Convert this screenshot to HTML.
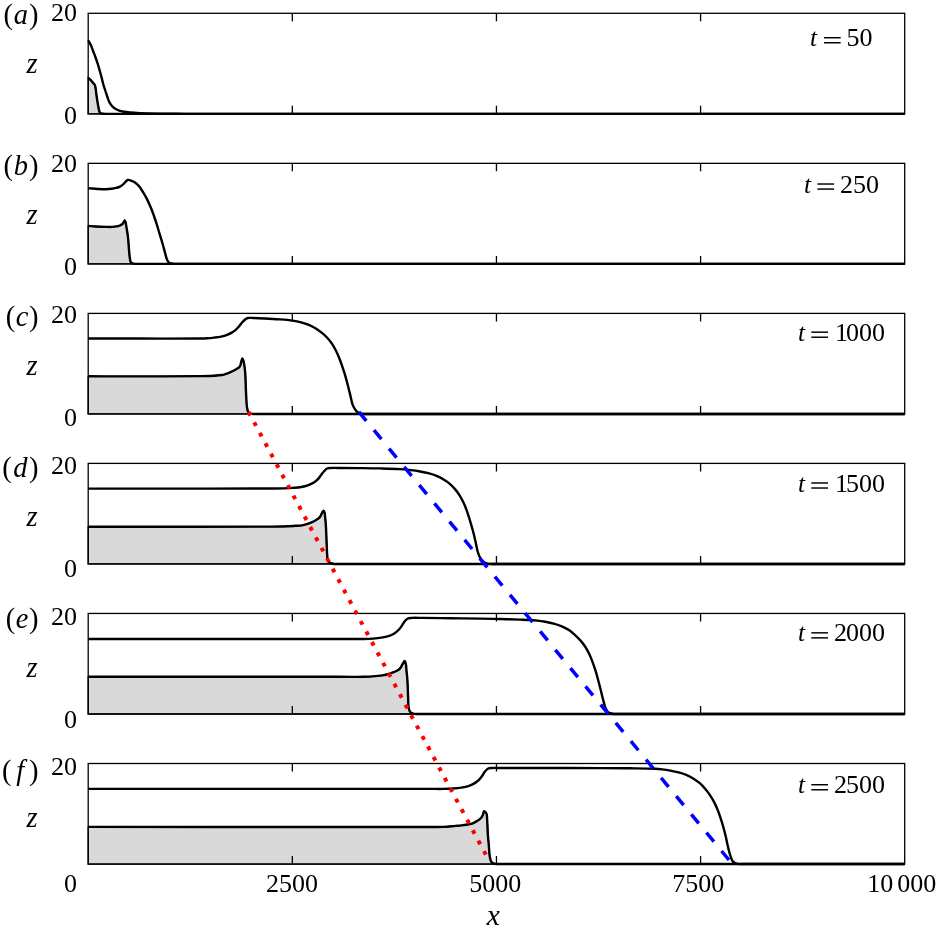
<!DOCTYPE html>
<html><head><meta charset="utf-8"><style>
html,body{margin:0;padding:0;background:#fff;width:936px;height:933px;overflow:hidden;font-family:"Liberation Serif",serif;}
svg{display:block;will-change:transform;}
</style></head><body>
<svg width="936" height="933" viewBox="0 0 936 933"><rect x="0" y="0" width="936" height="933" fill="#fff"/>
<path d="M88.20 77.80 C88.87 78.40 89.57 78.97 90.20 79.60 C90.83 80.23 91.42 80.95 92.00 81.60 C92.55 82.21 93.10 82.77 93.60 83.40 C94.10 84.04 94.68 84.65 95.00 85.40 C95.34 86.18 95.37 86.92 95.55 88.00 C95.85 89.76 96.13 92.67 96.45 95.00 C96.78 97.34 97.16 99.93 97.50 102.00 C97.77 103.67 98.03 105.07 98.30 106.50 C98.55 107.81 98.76 109.17 99.05 110.25 C99.28 111.10 99.38 111.95 99.80 112.50 C100.17 112.98 100.65 113.27 101.30 113.50 C102.23 113.83 103.77 113.75 105.00 113.87 L105.00 113.87 L88.20 113.87 Z" fill="#d9d9d9" stroke="#000" stroke-width="1.3"/>
<rect x="88.20" y="13.30" width="816.50" height="100.57" fill="none" stroke="#000" stroke-width="1.3"/>
<path d="M292.32 13.30 V21.30 M292.32 113.87 V105.87" stroke="#000" stroke-width="1.3" fill="none"/>
<path d="M496.45 13.30 V21.30 M496.45 113.87 V105.87" stroke="#000" stroke-width="1.3" fill="none"/>
<path d="M700.58 13.30 V21.30 M700.58 113.87 V105.87" stroke="#000" stroke-width="1.3" fill="none"/>
<path d="M88.20 40.30 C89.20 42.17 90.36 44.05 91.20 45.90 C91.97 47.61 92.43 49.23 93.10 51.00 C93.83 52.92 94.62 54.85 95.40 57.00 C96.29 59.47 97.33 62.52 98.10 65.00 C98.76 67.13 99.23 69.00 99.80 71.00 C100.37 73.00 100.93 74.85 101.50 77.00 C102.15 79.47 102.77 82.54 103.47 85.00 C104.08 87.16 104.75 89.00 105.40 91.00 C106.06 93.00 106.69 95.04 107.40 97.00 C108.09 98.91 108.72 100.99 109.60 102.60 C110.36 103.99 111.22 105.15 112.20 106.20 C113.13 107.20 114.16 108.06 115.30 108.80 C116.48 109.57 117.81 110.21 119.20 110.70 C120.67 111.22 122.23 111.51 123.90 111.80 C125.77 112.13 127.64 112.30 129.90 112.50 C132.83 112.76 136.06 112.93 140.00 113.10 C145.54 113.33 152.96 113.47 160.00 113.60 C167.87 113.74 176.67 113.78 185.00 113.87 L904.70 113.87" fill="none" stroke="#000" stroke-width="2.4" stroke-linejoin="round" stroke-linecap="butt"/>
<path d="M88.20 77.80 C88.87 78.40 89.57 78.97 90.20 79.60 C90.83 80.23 91.42 80.95 92.00 81.60 C92.55 82.21 93.10 82.77 93.60 83.40 C94.10 84.04 94.68 84.65 95.00 85.40 C95.34 86.18 95.37 86.92 95.55 88.00 C95.85 89.76 96.13 92.67 96.45 95.00 C96.78 97.34 97.16 99.93 97.50 102.00 C97.77 103.67 98.03 105.07 98.30 106.50 C98.55 107.81 98.76 109.17 99.05 110.25 C99.28 111.10 99.38 111.95 99.80 112.50 C100.17 112.98 100.65 113.27 101.30 113.50 C102.23 113.83 103.77 113.75 105.00 113.87 L904.70 113.87" fill="none" stroke="#000" stroke-width="2.4" stroke-linejoin="round" stroke-linecap="butt"/>
<path d="M88.20 225.90 C90.67 226.10 92.92 226.34 95.60 226.50 C98.77 226.69 102.95 226.84 106.00 226.90 C108.39 226.95 110.49 227.01 112.40 226.90 C113.95 226.81 115.34 226.65 116.60 226.40 C117.66 226.19 118.60 225.92 119.50 225.60 C120.32 225.31 121.19 225.03 121.80 224.60 C122.31 224.24 122.65 223.80 123.00 223.30 C123.39 222.75 123.66 221.92 124.00 221.40 C124.26 221.00 124.56 220.36 124.80 220.40 C125.11 220.45 125.37 221.59 125.60 222.40 C125.94 223.59 126.14 225.38 126.40 226.90 C126.67 228.47 126.95 230.10 127.20 231.70 C127.45 233.30 127.69 234.78 127.90 236.50 C128.14 238.48 128.31 240.64 128.50 242.90 C128.71 245.44 128.86 248.35 129.10 251.00 C129.33 253.55 129.51 256.39 129.90 258.50 C130.20 260.08 130.26 261.74 131.00 262.60 C131.59 263.29 132.57 263.47 133.50 263.70 C134.55 263.96 135.83 263.85 137.00 263.92 L137.00 263.92 L88.20 263.92 Z" fill="#d9d9d9" stroke="#000" stroke-width="1.3"/>
<rect x="88.20" y="163.35" width="816.50" height="100.57" fill="none" stroke="#000" stroke-width="1.3"/>
<path d="M292.32 163.35 V171.35 M292.32 263.92 V255.92" stroke="#000" stroke-width="1.3" fill="none"/>
<path d="M496.45 163.35 V171.35 M496.45 263.92 V255.92" stroke="#000" stroke-width="1.3" fill="none"/>
<path d="M700.58 163.35 V171.35 M700.58 263.92 V255.92" stroke="#000" stroke-width="1.3" fill="none"/>
<path d="M88.20 188.30 C89.60 188.37 90.85 188.40 92.40 188.50 C94.33 188.62 96.74 188.88 98.90 189.00 C101.04 189.12 103.17 189.23 105.30 189.20 C107.43 189.17 109.76 189.05 111.70 188.80 C113.34 188.59 114.78 188.28 116.20 187.90 C117.53 187.54 118.77 187.25 120.00 186.60 C121.35 185.89 122.64 184.77 123.90 183.70 C125.21 182.58 126.31 180.41 127.70 180.00 C128.91 179.65 130.34 180.36 131.60 180.80 C132.91 181.25 134.19 181.83 135.40 182.70 C136.78 183.69 138.07 185.10 139.30 186.60 C140.69 188.28 141.95 190.37 143.20 192.40 C144.52 194.53 145.78 196.69 147.00 199.10 C148.36 201.78 149.73 204.97 150.90 207.80 C151.98 210.43 152.86 212.85 153.80 215.50 C154.79 218.30 155.76 221.21 156.70 224.20 C157.69 227.34 158.63 230.68 159.60 233.90 C160.56 237.11 161.60 240.37 162.50 243.50 C163.36 246.47 164.14 249.48 164.90 252.20 C165.57 254.61 166.04 257.16 166.80 259.00 C167.36 260.37 167.87 261.65 168.70 262.40 C169.40 263.03 170.21 263.25 171.20 263.50 C172.52 263.84 174.40 263.78 176.00 263.92 L904.70 263.92" fill="none" stroke="#000" stroke-width="2.4" stroke-linejoin="round" stroke-linecap="butt"/>
<path d="M88.20 225.90 C90.67 226.10 92.92 226.34 95.60 226.50 C98.77 226.69 102.95 226.84 106.00 226.90 C108.39 226.95 110.49 227.01 112.40 226.90 C113.95 226.81 115.34 226.65 116.60 226.40 C117.66 226.19 118.60 225.92 119.50 225.60 C120.32 225.31 121.19 225.03 121.80 224.60 C122.31 224.24 122.65 223.80 123.00 223.30 C123.39 222.75 123.66 221.92 124.00 221.40 C124.26 221.00 124.56 220.36 124.80 220.40 C125.11 220.45 125.37 221.59 125.60 222.40 C125.94 223.59 126.14 225.38 126.40 226.90 C126.67 228.47 126.95 230.10 127.20 231.70 C127.45 233.30 127.69 234.78 127.90 236.50 C128.14 238.48 128.31 240.64 128.50 242.90 C128.71 245.44 128.86 248.35 129.10 251.00 C129.33 253.55 129.51 256.39 129.90 258.50 C130.20 260.08 130.26 261.74 131.00 262.60 C131.59 263.29 132.57 263.47 133.50 263.70 C134.55 263.96 135.83 263.85 137.00 263.92 L904.70 263.92" fill="none" stroke="#000" stroke-width="2.4" stroke-linejoin="round" stroke-linecap="butt"/>
<path d="M88.20 376.30 C105.30 376.33 121.70 376.43 139.50 376.40 C158.84 376.37 186.84 376.32 200.00 376.10 C206.38 375.99 210.17 375.94 214.20 375.70 C217.19 375.52 219.98 375.34 222.00 375.00 C223.31 374.78 224.14 374.51 225.20 374.20 C226.27 373.88 227.34 373.53 228.40 373.10 C229.48 372.66 230.53 372.11 231.60 371.60 C232.69 371.08 233.88 370.53 234.90 370.00 C235.80 369.53 236.63 369.10 237.40 368.60 C238.12 368.13 238.88 367.72 239.40 367.10 C239.91 366.48 240.20 365.73 240.50 364.90 C240.86 363.93 241.00 362.69 241.30 361.60 C241.60 360.52 241.91 358.42 242.30 358.40 C242.66 358.38 243.17 359.95 243.50 361.00 C243.96 362.47 244.22 364.59 244.50 366.50 C244.80 368.55 245.02 370.64 245.20 372.90 C245.40 375.42 245.49 378.15 245.60 380.90 C245.72 383.84 245.78 387.06 245.90 390.00 C246.01 392.75 246.14 395.28 246.30 398.00 C246.47 400.84 246.48 404.10 246.90 406.70 C247.25 408.87 247.51 411.52 248.40 412.60 C248.95 413.27 249.75 413.37 250.50 413.60 C251.28 413.84 252.17 413.85 253.00 413.97 L253.00 413.97 L88.20 413.97 Z" fill="#d9d9d9" stroke="#000" stroke-width="1.3"/>
<rect x="88.20" y="313.40" width="816.50" height="100.57" fill="none" stroke="#000" stroke-width="1.3"/>
<path d="M292.32 313.40 V321.40 M292.32 413.97 V405.97" stroke="#000" stroke-width="1.3" fill="none"/>
<path d="M496.45 313.40 V321.40 M496.45 413.97 V405.97" stroke="#000" stroke-width="1.3" fill="none"/>
<path d="M700.58 313.40 V321.40 M700.58 413.97 V405.97" stroke="#000" stroke-width="1.3" fill="none"/>
<path d="M88.20 338.55 C105.30 338.55 121.70 338.55 139.50 338.55 C158.84 338.55 189.71 338.74 200.00 338.55 C203.53 338.48 204.74 338.44 207.10 338.28 C209.47 338.13 211.85 337.90 214.20 337.61 C216.55 337.32 218.98 337.04 221.20 336.55 C223.27 336.08 225.27 335.49 227.10 334.80 C228.78 334.16 230.37 333.42 231.80 332.60 C233.11 331.84 234.25 331.07 235.40 330.10 C236.63 329.06 237.81 327.75 238.90 326.50 C239.97 325.28 240.88 323.87 241.90 322.70 C242.85 321.62 243.76 320.50 244.80 319.70 C245.74 318.97 246.61 318.31 247.80 318.00 C249.28 317.61 250.99 317.96 253.10 318.00 C256.26 318.07 260.97 318.30 264.90 318.50 C268.83 318.70 272.89 318.96 276.70 319.20 C280.28 319.43 283.97 319.57 287.10 319.90 C289.70 320.17 291.85 320.48 294.20 320.90 C296.55 321.32 298.87 321.78 301.20 322.40 C303.57 323.04 305.97 323.74 308.30 324.70 C310.71 325.69 313.19 326.98 315.40 328.30 C317.50 329.56 319.38 330.88 321.30 332.40 C323.32 334.00 325.42 335.81 327.20 337.70 C328.94 339.55 330.46 341.48 331.90 343.60 C333.40 345.81 334.74 348.20 336.00 350.70 C337.32 353.32 338.51 356.22 339.60 359.00 C340.67 361.72 341.55 364.37 342.50 367.20 C343.52 370.22 344.56 373.40 345.50 376.60 C346.47 379.89 347.35 383.39 348.20 386.70 C349.02 389.89 349.76 393.06 350.50 396.10 C351.19 398.95 351.64 402.07 352.50 404.40 C353.18 406.23 354.02 407.76 354.90 409.10 C355.64 410.23 356.38 411.26 357.30 412.00 C358.16 412.69 359.14 413.17 360.20 413.50 C361.35 413.86 362.73 413.81 364.00 413.97 L904.70 413.97" fill="none" stroke="#000" stroke-width="2.4" stroke-linejoin="round" stroke-linecap="butt"/>
<path d="M88.20 376.30 C105.30 376.33 121.70 376.43 139.50 376.40 C158.84 376.37 186.84 376.32 200.00 376.10 C206.38 375.99 210.17 375.94 214.20 375.70 C217.19 375.52 219.98 375.34 222.00 375.00 C223.31 374.78 224.14 374.51 225.20 374.20 C226.27 373.88 227.34 373.53 228.40 373.10 C229.48 372.66 230.53 372.11 231.60 371.60 C232.69 371.08 233.88 370.53 234.90 370.00 C235.80 369.53 236.63 369.10 237.40 368.60 C238.12 368.13 238.88 367.72 239.40 367.10 C239.91 366.48 240.20 365.73 240.50 364.90 C240.86 363.93 241.00 362.69 241.30 361.60 C241.60 360.52 241.91 358.42 242.30 358.40 C242.66 358.38 243.17 359.95 243.50 361.00 C243.96 362.47 244.22 364.59 244.50 366.50 C244.80 368.55 245.02 370.64 245.20 372.90 C245.40 375.42 245.49 378.15 245.60 380.90 C245.72 383.84 245.78 387.06 245.90 390.00 C246.01 392.75 246.14 395.28 246.30 398.00 C246.47 400.84 246.48 404.10 246.90 406.70 C247.25 408.87 247.51 411.52 248.40 412.60 C248.95 413.27 249.75 413.37 250.50 413.60 C251.28 413.84 252.17 413.85 253.00 413.97 L904.70 413.97" fill="none" stroke="#000" stroke-width="2.4" stroke-linejoin="round" stroke-linecap="butt"/>
<path d="M88.20 526.75 C125.47 526.75 168.49 526.78 200.00 526.75 C223.09 526.73 244.58 526.73 260.00 526.65 C269.67 526.60 277.08 526.65 283.60 526.45 C288.21 526.31 292.03 526.03 295.40 525.82 C297.92 525.66 300.20 525.62 302.00 525.35 C303.27 525.16 304.14 524.90 305.20 524.61 C306.27 524.32 307.34 523.97 308.40 523.60 C309.47 523.23 310.54 522.86 311.60 522.40 C312.70 521.93 313.90 521.38 314.90 520.80 C315.81 520.27 316.61 519.64 317.40 519.10 C318.11 518.61 318.86 518.25 319.40 517.70 C319.91 517.18 320.24 516.55 320.60 515.90 C320.98 515.22 321.23 514.43 321.60 513.70 C321.99 512.93 322.47 511.89 322.90 511.40 C323.17 511.10 323.46 510.74 323.70 510.80 C324.02 510.88 324.28 511.68 324.50 512.40 C324.88 513.66 324.99 516.00 325.20 517.90 C325.43 519.95 325.65 522.23 325.80 524.30 C325.94 526.25 326.00 528.00 326.10 530.00 C326.21 532.21 326.30 534.57 326.40 537.00 C326.50 539.65 326.58 542.51 326.70 545.30 C326.82 548.14 326.94 551.48 327.10 553.90 C327.22 555.67 327.22 557.14 327.50 558.50 C327.73 559.62 327.90 560.71 328.50 561.50 C329.08 562.27 330.09 562.79 331.00 563.20 C331.92 563.62 333.00 563.71 334.00 563.97 L334.00 563.97 L88.20 563.97 Z" fill="#d9d9d9" stroke="#000" stroke-width="1.3"/>
<rect x="88.20" y="463.40" width="816.50" height="100.57" fill="none" stroke="#000" stroke-width="1.3"/>
<path d="M292.32 463.40 V471.40 M292.32 563.97 V555.97" stroke="#000" stroke-width="1.3" fill="none"/>
<path d="M496.45 463.40 V471.40 M496.45 563.97 V555.97" stroke="#000" stroke-width="1.3" fill="none"/>
<path d="M700.58 463.40 V471.40 M700.58 563.97 V555.97" stroke="#000" stroke-width="1.3" fill="none"/>
<path d="M88.20 488.65 C125.47 488.65 168.49 488.68 200.00 488.65 C223.09 488.63 247.71 488.56 260.00 488.55 C265.45 488.55 267.87 488.58 271.80 488.55 C275.73 488.52 279.89 488.48 283.60 488.35 C286.91 488.24 289.97 488.11 293.00 487.87 C295.86 487.65 298.66 487.50 301.30 487.00 C303.78 486.53 306.18 485.87 308.40 485.03 C310.49 484.25 312.58 483.34 314.30 482.20 C315.87 481.16 317.21 479.89 318.40 478.60 C319.52 477.38 320.31 475.97 321.30 474.70 C322.28 473.44 323.26 472.07 324.30 471.00 C325.23 470.04 326.10 469.00 327.20 468.50 C328.27 468.01 329.25 468.11 330.80 468.00 C333.59 467.81 338.29 467.99 342.60 468.00 C347.84 468.02 354.00 468.04 360.00 468.10 C366.43 468.17 373.33 468.23 380.00 468.40 C386.67 468.57 394.58 468.75 400.00 469.10 C403.72 469.34 406.26 469.65 409.40 470.00 C412.56 470.35 415.75 470.67 418.90 471.20 C422.05 471.73 425.28 472.39 428.30 473.20 C431.17 473.97 433.99 474.81 436.60 475.90 C439.08 476.93 441.41 478.18 443.60 479.50 C445.69 480.76 447.65 482.05 449.50 483.60 C451.39 485.18 453.14 486.98 454.80 488.90 C456.52 490.90 458.14 493.08 459.60 495.40 C461.12 497.81 462.45 500.41 463.70 503.10 C465.00 505.90 466.13 508.90 467.20 511.90 C468.30 514.96 469.25 518.15 470.20 521.30 C471.15 524.45 472.04 527.54 472.90 530.80 C473.81 534.23 474.68 537.86 475.50 541.40 C476.32 544.93 476.88 549.01 477.80 552.00 C478.51 554.29 479.16 556.18 480.20 557.90 C481.16 559.48 482.41 561.03 483.70 562.00 C484.81 562.83 485.99 563.27 487.30 563.60 C488.73 563.96 490.43 563.85 492.00 563.97 L904.70 563.97" fill="none" stroke="#000" stroke-width="2.4" stroke-linejoin="round" stroke-linecap="butt"/>
<path d="M88.20 526.75 C125.47 526.75 168.49 526.78 200.00 526.75 C223.09 526.73 244.58 526.73 260.00 526.65 C269.67 526.60 277.08 526.65 283.60 526.45 C288.21 526.31 292.03 526.03 295.40 525.82 C297.92 525.66 300.20 525.62 302.00 525.35 C303.27 525.16 304.14 524.90 305.20 524.61 C306.27 524.32 307.34 523.97 308.40 523.60 C309.47 523.23 310.54 522.86 311.60 522.40 C312.70 521.93 313.90 521.38 314.90 520.80 C315.81 520.27 316.61 519.64 317.40 519.10 C318.11 518.61 318.86 518.25 319.40 517.70 C319.91 517.18 320.24 516.55 320.60 515.90 C320.98 515.22 321.23 514.43 321.60 513.70 C321.99 512.93 322.47 511.89 322.90 511.40 C323.17 511.10 323.46 510.74 323.70 510.80 C324.02 510.88 324.28 511.68 324.50 512.40 C324.88 513.66 324.99 516.00 325.20 517.90 C325.43 519.95 325.65 522.23 325.80 524.30 C325.94 526.25 326.00 528.00 326.10 530.00 C326.21 532.21 326.30 534.57 326.40 537.00 C326.50 539.65 326.58 542.51 326.70 545.30 C326.82 548.14 326.94 551.48 327.10 553.90 C327.22 555.67 327.22 557.14 327.50 558.50 C327.73 559.62 327.90 560.71 328.50 561.50 C329.08 562.27 330.09 562.79 331.00 563.20 C331.92 563.62 333.00 563.71 334.00 563.97 L904.70 563.97" fill="none" stroke="#000" stroke-width="2.4" stroke-linejoin="round" stroke-linecap="butt"/>
<path d="M88.20 676.80 C172.13 676.80 300.65 676.80 340.00 676.80 C352.05 676.80 357.09 676.98 363.60 676.80 C368.21 676.67 371.78 676.46 375.40 676.14 C378.50 675.88 381.84 675.53 384.00 675.13 C385.34 674.88 386.14 674.60 387.20 674.30 C388.27 673.99 389.34 673.65 390.40 673.30 C391.47 672.95 392.53 672.61 393.60 672.20 C394.70 671.78 395.90 671.35 396.90 670.80 C397.82 670.30 398.70 669.74 399.40 669.10 C400.04 668.52 400.57 667.89 401.00 667.20 C401.43 666.52 401.62 665.70 402.00 665.00 C402.38 664.30 402.87 663.68 403.30 663.00 C403.74 662.31 404.20 660.86 404.60 660.90 C405.08 660.94 405.59 662.87 405.90 664.20 C406.34 666.06 406.28 668.84 406.50 671.10 C406.71 673.27 407.02 675.36 407.20 677.50 C407.38 679.63 407.49 681.64 407.60 683.90 C407.73 686.44 407.80 689.31 407.90 692.00 C408.00 694.67 408.08 697.38 408.20 700.00 C408.32 702.54 408.17 705.34 408.60 707.50 C408.94 709.22 409.32 710.97 410.20 712.00 C410.93 712.86 412.10 713.26 413.10 713.60 C414.04 713.92 415.03 713.88 416.00 714.02 L416.00 714.02 L88.20 714.02 Z" fill="#d9d9d9" stroke="#000" stroke-width="1.3"/>
<rect x="88.20" y="613.45" width="816.50" height="100.57" fill="none" stroke="#000" stroke-width="1.3"/>
<path d="M292.32 613.45 V621.45 M292.32 714.02 V706.02" stroke="#000" stroke-width="1.3" fill="none"/>
<path d="M496.45 613.45 V621.45 M496.45 714.02 V706.02" stroke="#000" stroke-width="1.3" fill="none"/>
<path d="M700.58 613.45 V621.45 M700.58 714.02 V706.02" stroke="#000" stroke-width="1.3" fill="none"/>
<path d="M88.20 639.00 C172.13 639.00 310.13 639.00 340.00 639.00 C346.47 639.00 347.87 639.00 351.80 639.00 C355.73 639.00 359.89 639.08 363.60 639.00 C366.91 638.93 369.97 638.81 373.00 638.58 C375.86 638.35 378.65 638.10 381.30 637.67 C383.77 637.26 386.18 636.83 388.40 636.09 C390.50 635.39 392.51 634.52 394.30 633.40 C396.04 632.31 397.69 630.88 399.00 629.50 C400.17 628.27 400.97 626.92 401.90 625.60 C402.83 624.29 403.59 622.80 404.60 621.60 C405.57 620.45 406.55 619.11 407.80 618.50 C409.02 617.90 410.28 618.02 412.00 617.90 C414.72 617.71 418.24 617.88 422.60 617.90 C429.60 617.94 440.66 618.09 450.00 618.20 C459.77 618.32 471.01 618.45 480.00 618.60 C487.34 618.72 493.33 618.83 500.00 619.00 C506.67 619.17 514.48 619.41 520.00 619.60 C523.91 619.74 526.95 619.81 530.00 620.00 C532.57 620.16 534.65 620.32 537.10 620.60 C539.74 620.90 542.57 621.30 545.30 621.80 C548.07 622.30 550.86 622.85 553.60 623.60 C556.36 624.35 559.21 625.19 561.80 626.30 C564.30 627.37 566.70 628.65 568.90 630.10 C571.03 631.50 572.93 633.13 574.80 634.80 C576.66 636.46 578.44 638.24 580.10 640.10 C581.77 641.97 583.36 643.84 584.80 646.00 C586.35 648.31 587.73 650.98 589.00 653.60 C590.30 656.27 591.42 659.07 592.50 661.90 C593.59 664.77 594.56 667.70 595.50 670.70 C596.47 673.79 597.33 676.99 598.20 680.20 C599.09 683.49 599.97 686.92 600.80 690.20 C601.60 693.38 602.29 696.57 603.10 699.60 C603.86 702.46 604.46 705.62 605.50 707.90 C606.32 709.70 607.13 711.42 608.40 712.40 C609.55 713.29 611.16 713.53 612.60 713.80 C614.03 714.07 615.53 713.95 617.00 714.02 L904.70 714.02" fill="none" stroke="#000" stroke-width="2.4" stroke-linejoin="round" stroke-linecap="butt"/>
<path d="M88.20 676.80 C172.13 676.80 300.65 676.80 340.00 676.80 C352.05 676.80 357.09 676.98 363.60 676.80 C368.21 676.67 371.78 676.46 375.40 676.14 C378.50 675.88 381.84 675.53 384.00 675.13 C385.34 674.88 386.14 674.60 387.20 674.30 C388.27 673.99 389.34 673.65 390.40 673.30 C391.47 672.95 392.53 672.61 393.60 672.20 C394.70 671.78 395.90 671.35 396.90 670.80 C397.82 670.30 398.70 669.74 399.40 669.10 C400.04 668.52 400.57 667.89 401.00 667.20 C401.43 666.52 401.62 665.70 402.00 665.00 C402.38 664.30 402.87 663.68 403.30 663.00 C403.74 662.31 404.20 660.86 404.60 660.90 C405.08 660.94 405.59 662.87 405.90 664.20 C406.34 666.06 406.28 668.84 406.50 671.10 C406.71 673.27 407.02 675.36 407.20 677.50 C407.38 679.63 407.49 681.64 407.60 683.90 C407.73 686.44 407.80 689.31 407.90 692.00 C408.00 694.67 408.08 697.38 408.20 700.00 C408.32 702.54 408.17 705.34 408.60 707.50 C408.94 709.22 409.32 710.97 410.20 712.00 C410.93 712.86 412.10 713.26 413.10 713.60 C414.04 713.92 415.03 713.88 416.00 714.02 L904.70 714.02" fill="none" stroke="#000" stroke-width="2.4" stroke-linejoin="round" stroke-linecap="butt"/>
<path d="M88.20 826.90 C198.80 826.93 384.90 826.99 420.00 827.00 C426.62 827.00 427.87 827.02 431.80 827.00 C435.73 826.98 439.67 827.08 443.60 826.90 C447.54 826.72 452.11 826.17 455.40 825.89 C457.77 825.69 459.46 825.61 461.50 825.38 C463.56 825.15 466.14 824.75 467.70 824.50 C468.65 824.35 469.18 824.29 470.00 824.10 C470.98 823.88 472.16 823.63 473.20 823.20 C474.29 822.75 475.34 822.04 476.40 821.40 C477.48 820.74 478.66 820.08 479.60 819.30 C480.48 818.57 481.30 817.82 481.90 816.90 C482.51 815.96 482.85 814.70 483.20 813.70 C483.50 812.85 483.46 811.48 483.90 811.30 C484.26 811.15 484.97 811.68 485.40 812.10 C485.93 812.61 486.43 813.44 486.70 814.30 C487.03 815.32 486.90 816.53 487.00 817.90 C487.13 819.73 487.28 821.95 487.40 824.30 C487.55 827.18 487.58 830.59 487.80 833.90 C488.03 837.44 488.47 841.17 488.80 844.90 C489.14 848.76 489.20 853.57 489.80 856.70 C490.21 858.84 490.46 860.84 491.40 862.00 C492.12 862.90 493.32 863.26 494.30 863.60 C495.19 863.91 496.10 863.91 497.00 864.07 L497.00 864.07 L88.20 864.07 Z" fill="#d9d9d9" stroke="#000" stroke-width="1.3"/>
<rect x="88.20" y="763.50" width="816.50" height="100.57" fill="none" stroke="#000" stroke-width="1.3"/>
<path d="M292.32 763.50 V771.50 M292.32 864.07 V856.07" stroke="#000" stroke-width="1.3" fill="none"/>
<path d="M496.45 763.50 V771.50 M496.45 864.07 V856.07" stroke="#000" stroke-width="1.3" fill="none"/>
<path d="M700.58 763.50 V771.50 M700.58 864.07 V856.07" stroke="#000" stroke-width="1.3" fill="none"/>
<path d="M88.20 788.90 C198.80 788.90 384.90 788.90 420.00 788.90 C426.62 788.90 427.87 788.90 431.80 788.90 C435.73 788.90 439.89 788.98 443.60 788.90 C446.91 788.83 449.97 788.73 453.00 788.51 C455.86 788.30 458.65 788.06 461.30 787.63 C463.77 787.23 466.18 786.81 468.40 786.08 C470.50 785.38 472.50 784.48 474.30 783.40 C476.02 782.37 477.68 781.07 479.00 779.80 C480.16 778.69 480.99 777.55 481.90 776.30 C482.86 774.99 483.59 773.37 484.60 772.10 C485.57 770.88 486.54 769.48 487.80 768.80 C489.02 768.14 490.27 768.16 492.00 768.00 C494.72 767.74 497.99 768.00 502.60 768.00 C511.26 768.00 526.07 767.99 540.00 768.00 C557.65 768.01 583.43 768.03 600.00 768.10 C611.72 768.15 620.46 768.17 630.00 768.30 C638.71 768.42 649.21 768.50 655.00 768.80 C658.09 768.96 659.65 769.12 662.10 769.40 C664.74 769.70 667.57 770.10 670.30 770.60 C673.07 771.10 675.86 771.65 678.60 772.40 C681.36 773.15 684.21 773.99 686.80 775.10 C689.30 776.17 691.69 777.51 693.90 778.90 C696.01 780.22 697.95 781.59 699.80 783.20 C701.69 784.85 703.44 786.77 705.10 788.70 C706.77 790.64 708.34 792.64 709.80 794.80 C711.31 797.03 712.72 799.46 714.00 801.90 C715.29 804.36 716.43 806.89 717.50 809.50 C718.60 812.18 719.56 814.98 720.50 817.80 C721.46 820.68 722.34 823.56 723.20 826.60 C724.11 829.84 724.99 833.28 725.80 836.70 C726.63 840.18 727.28 843.94 728.10 847.30 C728.85 850.38 729.61 853.56 730.50 856.10 C731.21 858.12 731.69 860.12 732.80 861.40 C733.75 862.49 735.07 863.15 736.40 863.60 C737.79 864.07 739.47 863.91 741.00 864.07 L904.70 864.07" fill="none" stroke="#000" stroke-width="2.4" stroke-linejoin="round" stroke-linecap="butt"/>
<path d="M88.20 826.90 C198.80 826.93 384.90 826.99 420.00 827.00 C426.62 827.00 427.87 827.02 431.80 827.00 C435.73 826.98 439.67 827.08 443.60 826.90 C447.54 826.72 452.11 826.17 455.40 825.89 C457.77 825.69 459.46 825.61 461.50 825.38 C463.56 825.15 466.14 824.75 467.70 824.50 C468.65 824.35 469.18 824.29 470.00 824.10 C470.98 823.88 472.16 823.63 473.20 823.20 C474.29 822.75 475.34 822.04 476.40 821.40 C477.48 820.74 478.66 820.08 479.60 819.30 C480.48 818.57 481.30 817.82 481.90 816.90 C482.51 815.96 482.85 814.70 483.20 813.70 C483.50 812.85 483.46 811.48 483.90 811.30 C484.26 811.15 484.97 811.68 485.40 812.10 C485.93 812.61 486.43 813.44 486.70 814.30 C487.03 815.32 486.90 816.53 487.00 817.90 C487.13 819.73 487.28 821.95 487.40 824.30 C487.55 827.18 487.58 830.59 487.80 833.90 C488.03 837.44 488.47 841.17 488.80 844.90 C489.14 848.76 489.20 853.57 489.80 856.70 C490.21 858.84 490.46 860.84 491.40 862.00 C492.12 862.90 493.32 863.26 494.30 863.60 C495.19 863.91 496.10 863.91 497.00 864.07 L904.70 864.07" fill="none" stroke="#000" stroke-width="2.4" stroke-linejoin="round" stroke-linecap="butt"/>
<path d="M248.56 411.94 L485.84 854.65" stroke="#ff0000" stroke-width="4.0" stroke-dasharray="4.0 7.864" fill="none"/>
<path d="M358.85 411.92 L728.97 859.99" stroke="#0000ff" stroke-width="3.5" stroke-dasharray="11.7 12.03" fill="none"/>
<text x="38.4" y="23.60" font-family="Liberation Serif" font-size="28.5" text-anchor="end">(<tspan font-style="italic" dx="0.85">a</tspan><tspan dx="0.85">)</tspan></text>
<text x="77.00" y="20.90" font-family="Liberation Serif" font-size="26.00" text-anchor="end">20</text>
<text x="26.60" y="73.20" font-family="Liberation Serif" font-size="28.50" font-style="italic" text-anchor="start">z</text>
<text x="77.00" y="124.30" font-family="Liberation Serif" font-size="26.00" text-anchor="end">0</text>
<text x="38.4" y="174.50" font-family="Liberation Serif" font-size="28.5" text-anchor="end">(<tspan font-style="italic" dx="0.85">b</tspan><tspan dx="0.85">)</tspan></text>
<text x="77.00" y="171.80" font-family="Liberation Serif" font-size="26.00" text-anchor="end">20</text>
<text x="26.60" y="224.10" font-family="Liberation Serif" font-size="28.50" font-style="italic" text-anchor="start">z</text>
<text x="77.00" y="275.20" font-family="Liberation Serif" font-size="26.00" text-anchor="end">0</text>
<text x="38.4" y="325.50" font-family="Liberation Serif" font-size="28.5" text-anchor="end">(<tspan font-style="italic" dx="0.50">c</tspan><tspan dx="0.50">)</tspan></text>
<text x="77.00" y="322.80" font-family="Liberation Serif" font-size="26.00" text-anchor="end">20</text>
<text x="26.60" y="375.10" font-family="Liberation Serif" font-size="28.50" font-style="italic" text-anchor="start">z</text>
<text x="77.00" y="426.20" font-family="Liberation Serif" font-size="26.00" text-anchor="end">0</text>
<text x="38.4" y="477.15" font-family="Liberation Serif" font-size="28.5" text-anchor="end">(<tspan font-style="italic" dx="1.50">d</tspan><tspan dx="1.50">)</tspan></text>
<text x="77.00" y="473.65" font-family="Liberation Serif" font-size="26.00" text-anchor="end">20</text>
<text x="26.60" y="525.95" font-family="Liberation Serif" font-size="28.50" font-style="italic" text-anchor="start">z</text>
<text x="77.00" y="577.05" font-family="Liberation Serif" font-size="26.00" text-anchor="end">0</text>
<text x="38.4" y="628.10" font-family="Liberation Serif" font-size="28.5" text-anchor="end">(<tspan font-style="italic" dx="0.50">e</tspan><tspan dx="0.50">)</tspan></text>
<text x="77.00" y="624.50" font-family="Liberation Serif" font-size="26.00" text-anchor="end">20</text>
<text x="26.60" y="676.80" font-family="Liberation Serif" font-size="28.50" font-style="italic" text-anchor="start">z</text>
<text x="77.00" y="727.90" font-family="Liberation Serif" font-size="26.00" text-anchor="end">0</text>
<text x="38.4" y="779.60" font-family="Liberation Serif" font-size="28.5" text-anchor="end">(<tspan font-style="italic" dx="4.75">f</tspan><tspan dx="4.75">)</tspan></text>
<text x="77.00" y="774.50" font-family="Liberation Serif" font-size="26.00" text-anchor="end">20</text>
<text x="26.60" y="826.80" font-family="Liberation Serif" font-size="28.50" font-style="italic" text-anchor="start">z</text>
<text x="846.59" y="46.29" font-family="Liberation Serif" font-size="26.00" text-anchor="start">50</text>
<rect x="824.00" y="37.00" width="16.7" height="1.45" fill="#000"/>
<rect x="824.00" y="42.05" width="16.7" height="1.45" fill="#000"/>
<text x="810.08" y="46.29" font-family="Liberation Serif" font-size="25.50" font-style="italic" text-anchor="start">t</text>
<text x="839.89" y="192.59" font-family="Liberation Serif" font-size="26.00" text-anchor="start">250</text>
<rect x="817.40" y="183.30" width="16.7" height="1.45" fill="#000"/>
<rect x="817.40" y="188.35" width="16.7" height="1.45" fill="#000"/>
<text x="803.98" y="192.59" font-family="Liberation Serif" font-size="25.50" font-style="italic" text-anchor="start">t</text>
<text x="834.89" y="340.74" font-family="Liberation Serif" font-size="26.00" text-anchor="start">1</text>
<text x="845.89" y="340.74" font-family="Liberation Serif" font-size="26.00" text-anchor="start">000</text>
<rect x="811.30" y="331.45" width="16.7" height="1.45" fill="#000"/>
<rect x="811.30" y="336.50" width="16.7" height="1.45" fill="#000"/>
<text x="797.88" y="340.74" font-family="Liberation Serif" font-size="25.50" font-style="italic" text-anchor="start">t</text>
<text x="834.89" y="491.54" font-family="Liberation Serif" font-size="26.00" text-anchor="start">1</text>
<text x="845.89" y="491.54" font-family="Liberation Serif" font-size="26.00" text-anchor="start">500</text>
<rect x="811.30" y="482.25" width="16.7" height="1.45" fill="#000"/>
<rect x="811.30" y="487.30" width="16.7" height="1.45" fill="#000"/>
<text x="797.88" y="491.54" font-family="Liberation Serif" font-size="25.50" font-style="italic" text-anchor="start">t</text>
<text x="833.89" y="641.39" font-family="Liberation Serif" font-size="26.00" text-anchor="start">2</text>
<text x="845.89" y="641.39" font-family="Liberation Serif" font-size="26.00" text-anchor="start">000</text>
<rect x="811.30" y="632.10" width="16.7" height="1.45" fill="#000"/>
<rect x="811.30" y="637.15" width="16.7" height="1.45" fill="#000"/>
<text x="797.88" y="641.39" font-family="Liberation Serif" font-size="25.50" font-style="italic" text-anchor="start">t</text>
<text x="833.89" y="793.29" font-family="Liberation Serif" font-size="26.00" text-anchor="start">2</text>
<text x="845.89" y="793.29" font-family="Liberation Serif" font-size="26.00" text-anchor="start">500</text>
<rect x="811.30" y="784.00" width="16.7" height="1.45" fill="#000"/>
<rect x="811.30" y="789.05" width="16.7" height="1.45" fill="#000"/>
<text x="797.88" y="793.29" font-family="Liberation Serif" font-size="25.50" font-style="italic" text-anchor="start">t</text>
<text x="77.00" y="892.30" font-family="Liberation Serif" font-size="26.00" text-anchor="end">0</text>
<text x="292.00" y="892.30" font-family="Liberation Serif" font-size="26.00" text-anchor="middle">2500</text>
<text x="495.15" y="892.30" font-family="Liberation Serif" font-size="26.00" text-anchor="middle">5000</text>
<text x="698.15" y="892.30" font-family="Liberation Serif" font-size="26.00" text-anchor="middle">7500</text>
<text x="867.21" y="892.30" font-family="Liberation Serif" font-size="26.00" text-anchor="start">10<tspan dx="4.0">000</tspan></text>
<text x="486.70" y="924.80" font-family="Liberation Serif" font-size="29.50" font-style="italic" text-anchor="start">x</text></svg>
</body></html>
